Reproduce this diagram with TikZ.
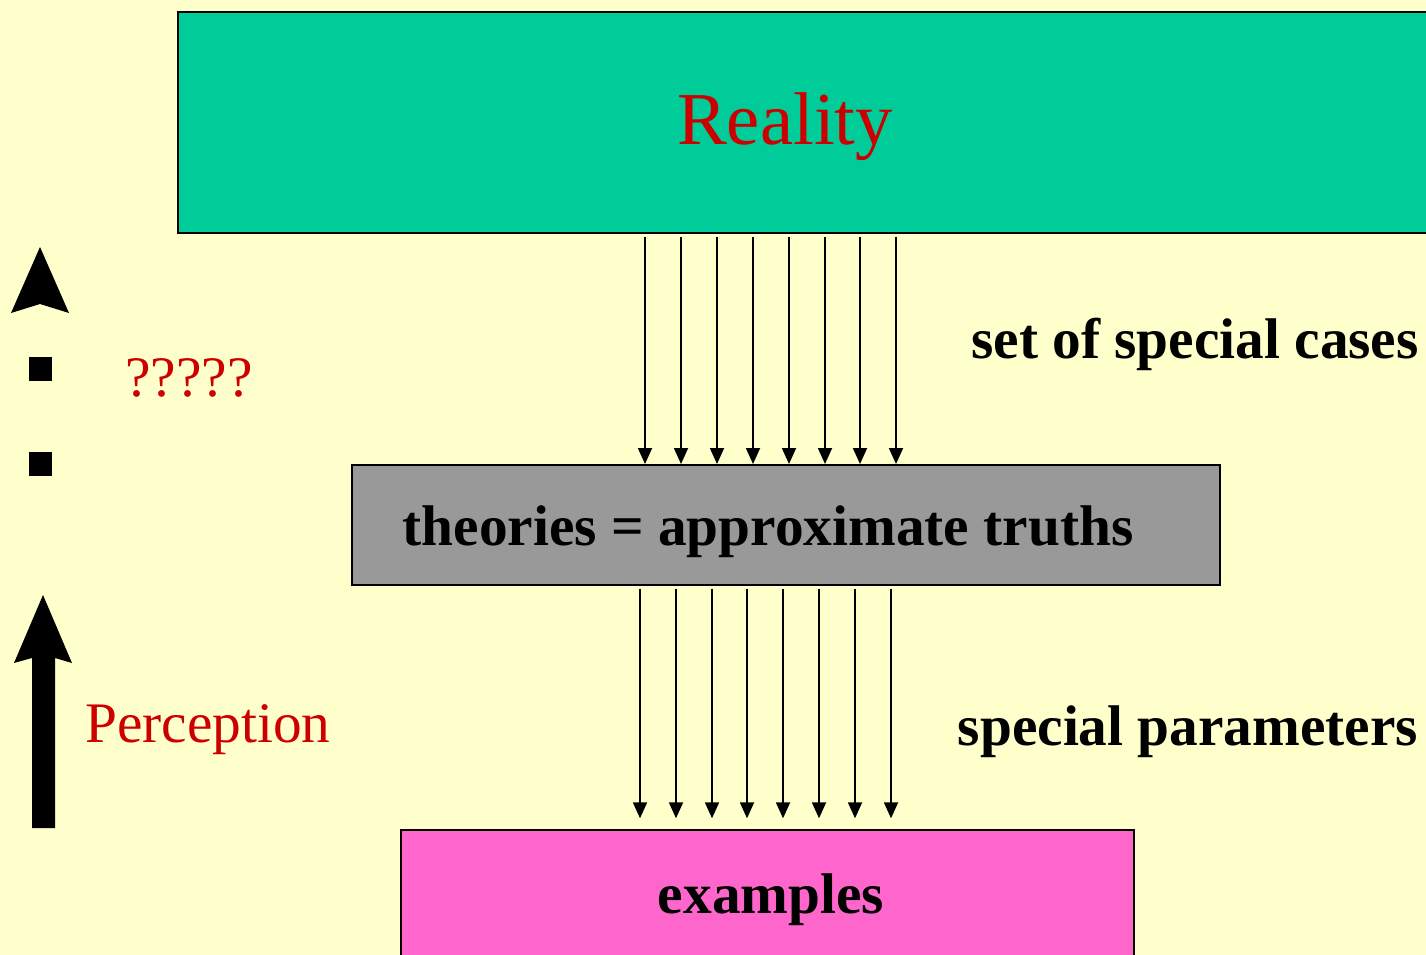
\documentclass[tikz,border=0pt]{standalone}
\usepackage{fontspec}
\setmainfont{Liberation Serif}
\usetikzlibrary{arrows.meta}
\definecolor{bg}{RGB}{255,255,204}
\definecolor{teal}{RGB}{0,204,153}
\definecolor{grayb}{RGB}{153,153,153}
\definecolor{pinkb}{RGB}{255,102,204}
\definecolor{redt}{RGB}{204,0,0}
\tikzset{
  box/.style={draw=black, line width=1.5pt, inner sep=0pt},
  boldtxt/.style={font=\fontsize{43}{50}\selectfont\bfseries, text=black, inner sep=0pt},
  redtxt/.style={font=\fontsize{43}{50}\selectfont, text=redt, inner sep=0pt},
  arr/.style={line width=1.4pt, -{Triangle[width=10.5pt,length=12pt]}},
}
\begin{document}
\begin{tikzpicture}[x=0.75pt,y=-0.75pt]
\useasboundingbox (0,0) rectangle (1426,955);
\fill[bg] (0,0) rectangle (1426,955);
\clip (0,0) rectangle (1426,955);
% boxes
\node[box, fill=teal, minimum width=946.5pt, minimum height=165.75pt] (reality) at (809,122.5) {};
\node[font=\fontsize{56}{60}\selectfont, text=redt, inner sep=0pt] (realitytxt) at (785,127) {Reality};
\node[box, fill=grayb, minimum width=651pt, minimum height=90pt] (theories) at (786,525) {};
\node[boldtxt] (theoriestxt) at (768,532) {theories = approximate truths};
\node[box, fill=pinkb, minimum width=549.75pt, minimum height=105pt] (examples) at (767.5,900) {};
\node[boldtxt] (examplestxt) at (771,900) {examples};
% labels
\node[boldtxt] (cases) at (1195,344) {set of special cases};
\node[boldtxt] (params) at (1188,732) {special parameters};
\node[redtxt] (qq) at (189,378) {?????};
\node[redtxt] (perc) at (208,730) {Perception};
% arrows top
\foreach \x [count=\i] in {645,681,717,753,789,825,860,896} {
  \coordinate (ta\i) at (\x,0);
  \draw[arr, shorten <=2pt] (reality.south -| ta\i) -- (theories.north -| ta\i);
}
% arrows bottom
\foreach \x [count=\i] in {640,676,712,747,783,819,855,891} {
  \coordinate (tb\i) at (\x,0);
  \draw[arr, shorten <=2pt, shorten >=8pt] (theories.south -| tb\i) -- (examples.north -| tb\i);
}
% left symbols
\fill[black] (40,247) -- (69,313) -- (40,304) -- (11,313) -- cycle;
\fill[black] (29,357) rectangle (52,381);
\fill[black] (29,452) rectangle (52,476);
\fill[black] (43,595) -- (72,663) -- (55,658) -- (55,828) -- (32,828) -- (32,658) -- (14,663) -- cycle;
\end{tikzpicture}
\end{document}
